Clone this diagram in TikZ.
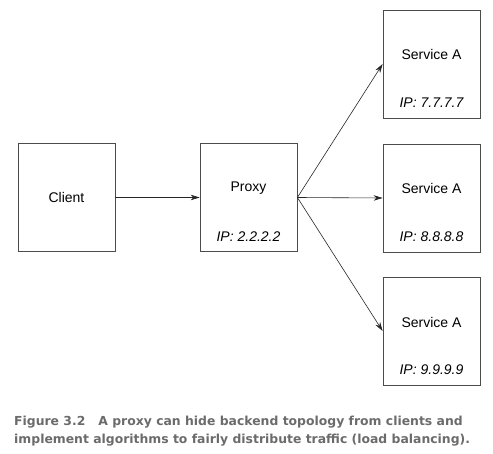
\documentclass[tikz,border=0pt]{standalone}
\usepackage{fontspec}
\setmainfont{Liberation Sans}
\newfontfamily\capfont{DejaVu Sans}
\usetikzlibrary{arrows.meta}
\definecolor{capgray}{HTML}{6B6B6B}
\tikzset{
  box/.style={draw=black!70, line width=0.8pt, minimum width=97pt, minimum height=108pt, inner sep=0pt},
  link/.style={draw=black!85, line width=0.6pt, -{Stealth[length=9pt,width=5.5pt]}},
  boxtext/.style={font=\fontsize{14}{16}\selectfont, inner sep=0pt},
  iptext/.style={font=\fontsize{14}{16}\selectfont\itshape, inner sep=0pt},
}
\begin{document}
\begin{tikzpicture}[x=1pt,y=-1pt]
  \useasboundingbox (0,0) rectangle (493,454);
  % boxes
  \node[box] (client) at (66.5,197.5) {};
  \node[box] (proxy) at (248.5,197.5) {};
  \node[box] (svc1) at (431.5,64) {};
  \node[box] (svc2) at (431.5,198) {};
  \node[box] (svc3) at (431.5,331) {};
  % texts inside the boxes
  \node[boxtext] (clientlbl) at (66.5,197.5) {Client};
  \node[boxtext] (proxylbl) at (248.5,188) {Proxy};
  \node[iptext] (proxyip) at (248.5,237) {IP: 2.2.2.2};
  \node[boxtext] (svc1lbl) at (431.5,54) {Service A};
  \node[iptext] (svc1ip) at (431.5,103) {IP: 7.7.7.7};
  \node[boxtext] (svc2lbl) at (431.5,188) {Service A};
  \node[iptext] (svc2ip) at (431.5,237) {IP: 8.8.8.8};
  \node[boxtext] (svc3lbl) at (431.5,322) {Service A};
  \node[iptext] (svc3ip) at (431.5,370) {IP: 9.9.9.9};
  % connectors
  \draw[link] (client.east) -- (proxy.west);
  \draw[link] (proxy.east) -- (svc1.west);
  \draw[link] (proxy.east) -- (svc2.west);
  \draw[link] (proxy.east) -- (svc3.west);
  % caption
  \node[anchor=base west, inner sep=0pt, text=capgray, font=\capfont\fontsize{12.4}{18}\selectfont\bfseries, align=left] (caption) at (14,443)
    {Figure 3.2\hspace{13pt}A proxy can hide backend topology from clients and\\
     implement algorithms to fairly distribute traffic (load balancing).};
\end{tikzpicture}
\end{document}
